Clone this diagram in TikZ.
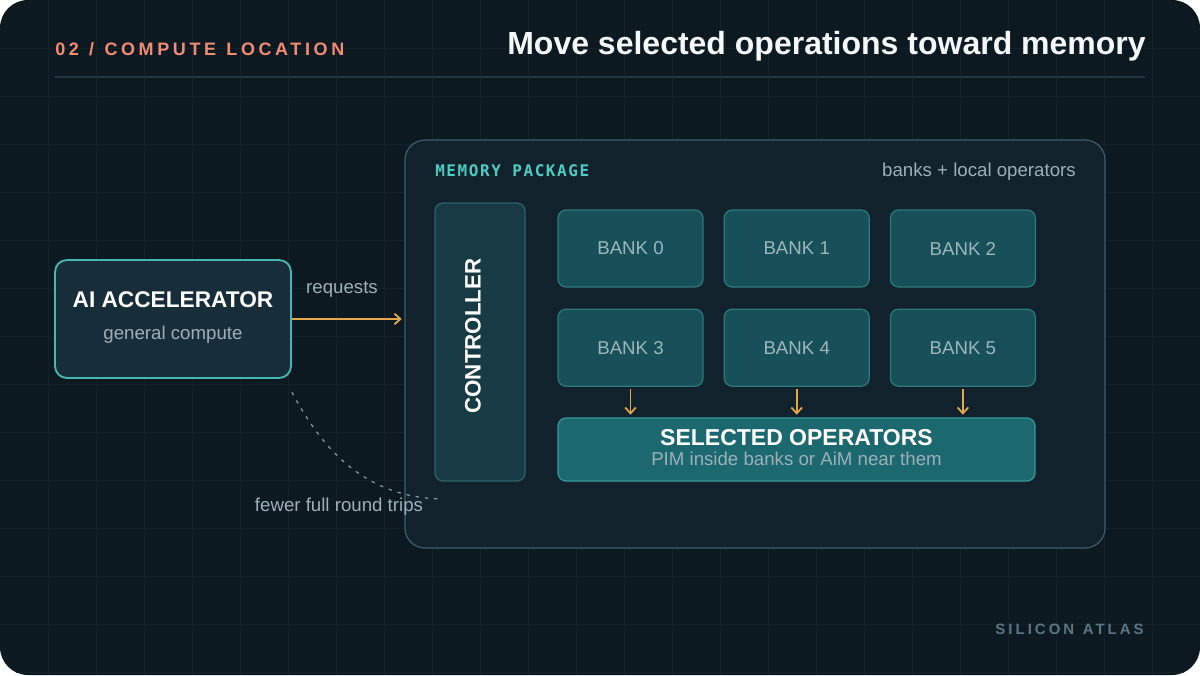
\documentclass[tikz,border=0pt]{standalone}
\usepackage{fontspec}
\setmainfont{Liberation Sans}
\newfontfamily\trackedsans[LetterSpace=20,WordSpace=1.2]{Liberation Sans}
\newfontfamily\monolabel[LetterSpace=10]{DejaVu Sans Mono}
\usetikzlibrary{positioning,arrows.meta}

\definecolor{bgdark}{HTML}{0D1921}
\definecolor{gridline}{HTML}{132229}
\definecolor{rulegrey}{HTML}{233540}
\definecolor{coral}{HTML}{F28B74}
\definecolor{headwhite}{HTML}{F5F8FA}
\definecolor{softgrey}{HTML}{9DB0B8}
\definecolor{gold}{HTML}{E3A949}
\definecolor{accfill}{HTML}{172D39}
\definecolor{accedge}{HTML}{46B7AF}
\definecolor{pkgfill}{HTML}{11222C}
\definecolor{pkgedge}{HTML}{3E5E69}
\definecolor{monoteal}{HTML}{4FCBC2}
\definecolor{ctrlfill}{HTML}{183A44}
\definecolor{ctrledge}{HTML}{2D6469}
\definecolor{bankfill}{HTML}{18505A}
\definecolor{bankedge}{HTML}{2C7A7C}
\definecolor{banktext}{HTML}{9CB6BC}
\definecolor{opsfill}{HTML}{1C686F}
\definecolor{opsedge}{HTML}{36999A}
\definecolor{brandgrey}{HTML}{5B7682}
\definecolor{dashgrey}{HTML}{8A9EA6}

\newcommand\pxl{0.75pt}

\begin{document}
\begin{tikzpicture}[%
		x=\pxl, y=-\pxl,
		>={Straight Barb[length=4.5pt,width=8pt]},
		node distance=15.75pt and 15pt,
		box/.style={%
			draw,
			rounded corners=6pt,
			line width=0.9pt,
			inner sep=0pt
		},
		accbox/.style={box, fill=accfill, draw=accedge, line width=1.4pt,
			rounded corners=9pt, minimum width=236*\pxl, minimum height=118*\pxl},
		pkgbox/.style={box, fill=pkgfill, draw=pkgedge, rounded corners=15pt,
			minimum width=700*\pxl, minimum height=408*\pxl},
		ctrlbox/.style={box, fill=ctrlfill, draw=ctrledge,
			minimum width=90*\pxl, minimum height=278*\pxl},
		bank/.style={box, fill=bankfill, draw=bankedge, text=banktext,
			minimum width=145*\pxl, minimum height=77*\pxl,
			font=\fontsize{14pt}{16pt}\selectfont},
		opsbox/.style={box, fill=opsfill, draw=opsedge,
			minimum width=477*\pxl, minimum height=63*\pxl},
		caption/.style={text=softgrey, inner sep=0pt, font=\fontsize{14pt}{16pt}\selectfont},
		heading/.style={text=white, inner sep=0pt, font=\bfseries\fontsize{#1}{#1}\selectfont},
		tracked/.style={inner sep=0pt, font=\trackedsans\bfseries\fontsize{#1}{#1}\selectfont},
		flow/.style={->, draw=gold, line width=1.3pt},
		roundtrip/.style={draw=dashgrey, line width=0.9pt, dash pattern=on 2.5pt off 4.5pt}
		]
		\useasboundingbox (0,0) rectangle (1200,675);
		\fill[white] (0,0) rectangle (1200,675);
		\fill[bgdark, rounded corners=21pt] (0,0) rectangle (1200,675);
		\begin{scope}
			\clip[rounded corners=21pt] (0,0) rectangle (1200,675);
			\foreach \gx in {48,96,...,1152}
				\draw[gridline, line width=0.6pt] (\gx,0) -- (\gx,675);
			\foreach \gy in {48,96,...,672}
				\draw[gridline, line width=0.6pt] (0,\gy) -- (1200,\gy);
		\end{scope}
		
		% header
		\node[tracked=13.5pt, text=coral, anchor=base west] (kicker) at (55,55) {02 / COMPUTE LOCATION};
		\node[heading=24pt, text=headwhite, anchor=base east] (headline) at (1146,54) {Move selected operations toward memory};
		\draw[rulegrey, line width=1.2pt] (55,77) -- (1145,77);
		
		% accelerator
		\node[accbox] (acc) at (173,319) {};
		\node[heading=17pt, anchor=base] (acctitle) at (173,307) {AI ACCELERATOR};
		\node[caption, anchor=base] (accsub) at (173,339) {general compute};
		
		% memory package
		\node[pkgbox] (pkg) at (755,344) {};
		\node[inner sep=0pt, text=monoteal, anchor=base west,
			font=\monolabel\bfseries\fontsize{12pt}{12pt}\selectfont] (pkgname) at (435,176) {MEMORY PACKAGE};
		\node[caption, anchor=base east] (pkgnote) at (1076,176) {banks + local operators};
		
		\node[ctrlbox] (ctrl) at (480,342) {};
		\node[heading=16.75pt, rotate=90] (ctrltxt) at (473,336) {CONTROLLER};
		
		\node[bank] (b0) at (630.5,248.5) {BANK 0};
		\node[bank] (b1) [right=of b0] {BANK 1};
		\node[bank] (b2) [right=of b1] {BANK 2};
		\node[bank] (b3) [below=of b0] {BANK 3};
		\node[bank] (b4) [right=of b3] {BANK 4};
		\node[bank] (b5) [right=of b4] {BANK 5};
		
		\node[opsbox] (ops) at (796.5,449.5) {};
		\node[heading=17.25pt, anchor=base] (opstitle) at (796.5,445) {SELECTED OPERATORS};
		\node[caption, anchor=base] (opssub) at (796.5,465.5) {PIM inside banks or AiM near them};
		
		% connectors
		\draw[flow, shorten >=2pt] (acc.east) -- (acc.east -| pkg.west);
		\node[caption, anchor=base] (reqlabel) at (342,293) {requests};
		\foreach \b in {b3,b4,b5}
			\draw[flow, shorten <=2pt, shorten >=2pt] (\b.south) -- (\b.south |- ops.north);
		
		\coordinate (tripend) at (440,499);
		\draw[roundtrip] ([yshift=-10pt]acc.south east) to[out=-62, in=178] (tripend);
		\node[caption, anchor=base] (triplabel) at (339,511) {fewer full round trips};
		
		\node[tracked=11.25pt, text=brandgrey, anchor=base east] (brand) at (1144,634) {SILICON ATLAS};
\end{tikzpicture}
\end{document}
